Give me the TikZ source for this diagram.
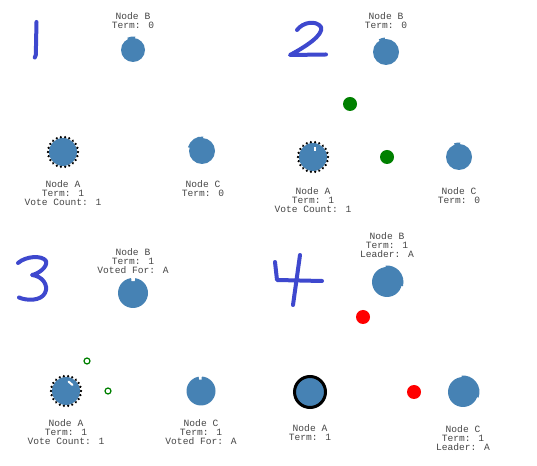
\documentclass[tikz,border=0pt]{standalone}
\usepackage{fontspec}
\usetikzlibrary{calc}
\newfontfamily\lblfam{Liberation Mono}
\newcommand\lblfont{\lblfam\fontsize{9.6}{9}\selectfont}
\definecolor{nodeblue}{RGB}{70,130,180}
\definecolor{txtgray}{RGB}{70,70,70}
\definecolor{handblue}{RGB}{62,72,206}
\definecolor{msggreen}{RGB}{0,128,0}
\definecolor{msgred}{RGB}{255,0,0}
\tikzset{
  srv/.style={circle, fill=nodeblue, inner sep=0pt, minimum size=#1},
  lbl/.style={font=\lblfont, align=center, inner sep=0pt, text=txtgray},
  hand/.style={draw=handblue, line width=4pt, line cap=round, line join=round},
  msgdot/.style={circle, fill=#1, inner sep=0pt, minimum size=14pt},
  msgring/.style={circle, draw=msggreen, line width=1.2pt, inner sep=0pt, minimum size=6pt},
  dotring/.style={draw=black, line width=2.6pt, line cap=round, dash pattern=on 0.01pt off 4.27pt},
  leaderring/.style={draw=black, line width=3pt},
}
% tab: bigger sector on a server circle
\newcommand\tabsector[4]{\fill[nodeblue] (#1.center) -- ++(#2:#4) arc[start angle=#2, end angle=#3, radius=#4] -- cycle;}
% notch: white annular wedge
\newcommand\notchcut[4]{\fill[white] ($(#1.center)+(#2:#4-3pt)$) arc[start angle=#2, end angle=#3, radius=#4-3pt] -- ($(#1.center)+(#3:#4+2pt)$) arc[start angle=#3, end angle=#2, radius=#4+2pt] -- cycle;}
\begin{document}
\begin{tikzpicture}[x=1pt,y=1pt]
\useasboundingbox[fill=white] (0,0) rectangle (537,465);

% ---------- Panel 1 ----------
\draw[hand] (36.5,443) .. controls (36.2,430) and (36,418) .. (35.8,410) -- (34.8,407.5);
\node[lbl] (lb1) at (133,444.5) {Node B\\Term: 0};
\node[srv=24pt] (b1) at (133,415) {};
\tabsector{b1}{80}{115}{13.5pt}
\node[srv=28pt] (a1) at (63,313) {};
\draw[dotring] (a1.center) circle[radius=15pt];
\node[lbl] (la1) at (63,272) {Node A\\Term: 1\\Vote Count: 1};
\node[srv=26pt] (c1) at (202,314) {};
\tabsector{c1}{85}{165}{14.5pt}
\node[lbl] (lc1) at (203,276.5) {Node C\\Term: 0};

% ---------- Panel 2 ----------
\draw[hand] (297,435) .. controls (303,443) and (316,445) .. (321,438)
  .. controls (324,430) and (305,418) .. (290,410) -- (326,410.5);
\node[lbl] (lb2) at (386,444.5) {Node B\\Term: 0};
\node[srv=26pt] (b2) at (386,413) {};
\tabsector{b2}{95}{120}{14.5pt}
\node[msgdot=msggreen] (m21) at (350,361) {};
\node[msgdot=msggreen] (m22) at (387,308) {};
\node[srv=28pt] (a2) at (313,308) {};
\draw[dotring] (a2.center) circle[radius=15pt];
\fill[white] (314.2,314) rectangle (316.2,317.5);
\node[lbl] (la2) at (313,265) {Node A\\Term: 1\\Vote Count: 1};
\node[srv=26pt] (c2) at (459,308) {};
\tabsector{c2}{85}{110}{14.5pt}
\node[lbl] (lc2) at (459,269.5) {Node C\\Term: 0};

% ---------- Panel 3 ----------
\draw[hand] (18,202) .. controls (26,209) and (42,210) .. (46,204)
  .. controls (48,198) and (38,191) .. (32,190)
  .. controls (42,189) and (49,180) .. (45,172)
  .. controls (41,164) and (27,164) .. (19,167.5);
\node[lbl] (lb3) at (133,204) {Node B\\Term: 1\\Voted For: A};
\node[srv=30pt] (b3) at (133,172) {};
\notchcut{b3}{82}{97}{15pt}
\node[msgring] (m31) at (87,104) {};
\node[msgring] (m32) at (108,74) {};
\node[srv=28pt] (a3) at (66,74) {};
\draw[dotring] (a3.center) circle[radius=15pt];
\draw[white, line width=2pt, line cap=round] (68.5,83.5) -- (72.5,80);
\node[lbl] (la3) at (66,33) {Node A\\Term: 1\\Vote Count: 1};
\node[srv=29pt] (c3) at (201,74) {};
\notchcut{c3}{87}{99}{14.5pt}
\node[lbl] (lc3) at (201,33) {Node C\\Term: 1\\Voted For: A};

% ---------- Panel 4 ----------
\draw[hand] (275,203) -- (277,185) -- (322,184);
\draw[hand] (300,210) -- (293,160);
\node[lbl] (lb4) at (387,220) {Node B\\Term: 1\\Leader: A};
\node[srv=30pt] (b4) at (387,183) {};
\tabsector{b4}{-15}{95}{16.5pt}
\node[msgdot=msgred] (m41) at (363,148) {};
\node[srv=31pt] (a4) at (310,73) {};
\draw[leaderring] (a4.center) circle[radius=15.5pt];
\node[lbl] (la4) at (310,32) {Node A\\Term: 1};
\node[msgdot=msgred] (m42) at (414,73) {};
\node[srv=30pt] (c4) at (463,73) {};
\tabsector{c4}{-20}{95}{16.5pt}
\node[lbl] (lc4) at (463,27) {Node C\\Term: 1\\Leader: A};
\end{tikzpicture}
\end{document}
